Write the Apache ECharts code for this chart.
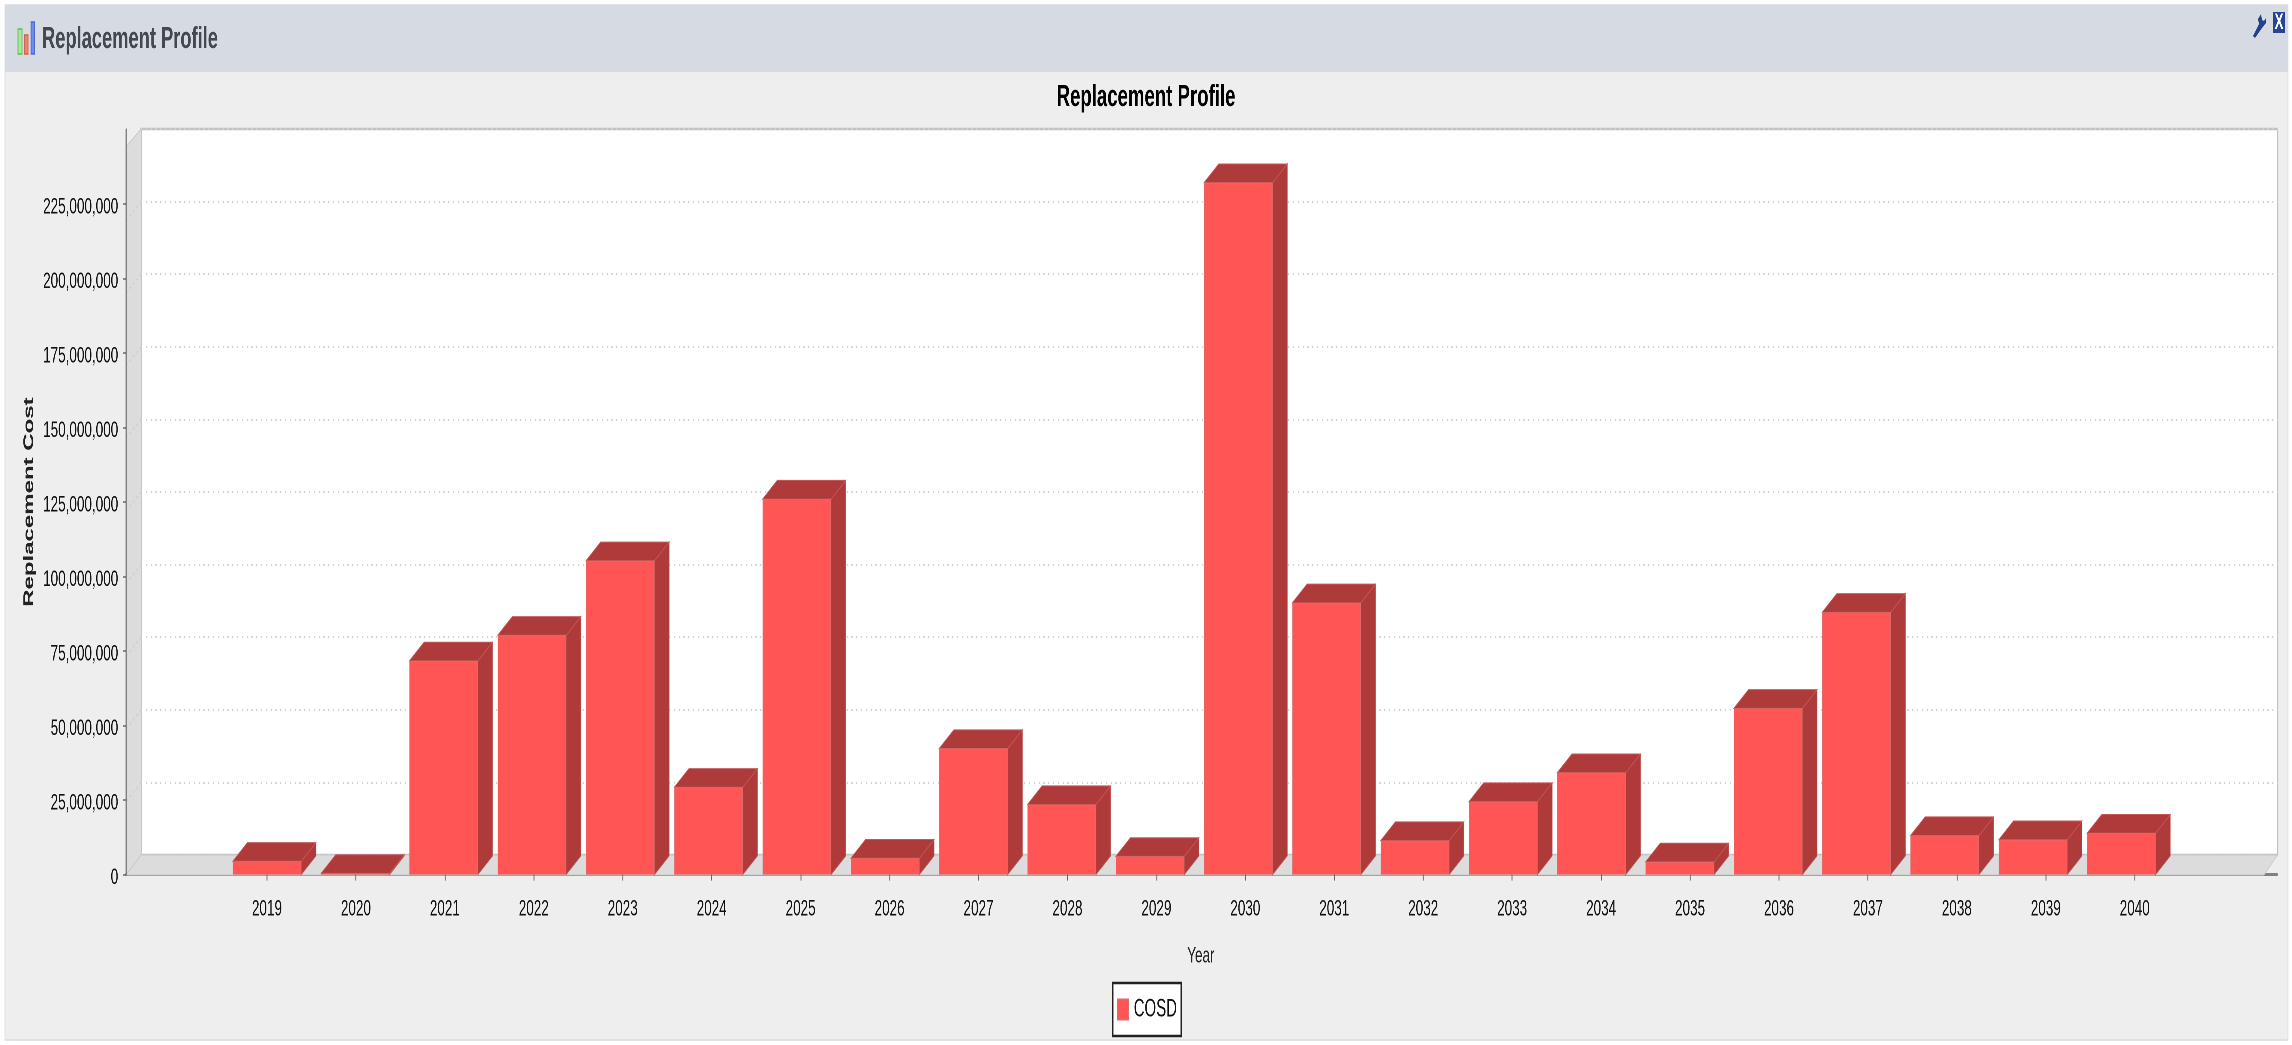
<!DOCTYPE html>
<html>
<head>
<meta charset="utf-8">
<title>Replacement Profile</title>
<style>
html,body{margin:0;padding:0;background:#fff;overflow:hidden;width:2292px;height:1045px}
#chart{position:absolute;left:0;top:0;width:3820px;height:1045px;transform-origin:0 0;transform:scaleX(0.6)}
</style>
<script src="https://cdn.jsdelivr.net/npm/echarts@6/dist/echarts.min.js"></script>
</head>
<body>
<div id="chart"></div>
<script>
const years = ['2019','2020','2021','2022','2023','2024','2025','2026','2027','2028','2029','2030','2031','2032','2033','2034','2035','2036','2037','2038','2039','2040'];
const cosd = [4460000,400000,71700000,80300000,105300000,29300000,126000000,5500000,42300000,23500000,6100000,232200000,91200000,11400000,24500000,34200000,4260000,55800000,88000000,13100000,11700000,13900000];
const yTicks = [0,25000000,50000000,75000000,100000000,125000000,150000000,175000000,200000000,225000000];
const seriesName = 'COSD';
const chartTitle = 'Replacement Profile';
const xTitle = 'Year';
const yTitle = 'Replacement Cost';

const XS = 0.6;                 // page is squeezed horizontally, text in the source is narrow
const px = x => x / XS;
const FONT = '"Liberation Sans", Arial, sans-serif';
const W = px(2292), H = 1045;
const FRONT = '#ff5555', DARK = '#af3a3a', EDGE = '#c25a5a';
const DX = px(14.7), DY = 18.7, BAR = px(68.5);

const chart = echarts.init(document.getElementById('chart'), null, {width: W, height: H, devicePixelRatio: 2});

function box(l, t, r, b) { return {left: px(l), top: t, width: px(r - l), height: b - t}; }
function poly(points, fill, extra) {
  return Object.assign({type: 'polygon', silent: true, shape: {points: points.map(p => [px(p[0]), p[1]])}, style: {fill: fill}}, extra || {});
}
function rect(l, t, r, b, style, z) {
  return {type: 'rect', silent: true, z: z, shape: {x: px(l), y: t, width: px(r - l), height: b - t}, style: style};
}

const chrome = [
  rect(5, 5, 2288, 1040, {fill: '#eeeeee', stroke: '#d8dbe4', lineWidth: 1.5}, -2),
  rect(5, 5, 2288, 72, {fill: '#d6dae3'}, -1),
  // header icon
  rect(18, 29, 22, 54, {fill: '#a6e89a', stroke: '#62b85a', lineWidth: 1.5}, 3),
  rect(24.5, 35, 28, 54, {fill: '#f0836e', stroke: '#d2604e', lineWidth: 1.5}, 3),
  rect(31, 22, 34.5, 54, {fill: '#6f8ee8', stroke: '#4a68cf', lineWidth: 1.5}, 3),
  // close box and wrench
  rect(2273, 12, 2285, 33, {fill: '#2a4492'}, 3),
  {type: 'text', silent: true, z: 4, style: {x: px(2279), y: 23, text: 'X', fill: '#fff', font: 'bold 22px ' + FONT, textAlign: 'center', textVerticalAlign: 'middle'}},
  poly([[2253,36],[2259,24],[2258,19],[2261,14],[2262,20],[2264,21],[2266,18],[2266,23],[2262,28],[2255,38]], '#24408e', {z: 3}),
  // 3D walls
  poly([[126,147],[141,129],[141,855],[126,875]], '#dcdcdc', {z: 1, style: {fill: '#dcdcdc', stroke: '#c4c4c4', lineWidth: 1}}),
  poly([[126,875],[141,855],[2277.5,855],[2264,875]], '#dcdcdc', {z: 1, style: {fill: '#dcdcdc', stroke: '#c8c8c8', lineWidth: 1}})
];

function faces(params, api) {
  const i = api.value(0), v = api.value(1);
  const top = api.coord([i, v]), base = api.coord([i, 0]);
  const l = top[0] - BAR / 2, r = top[0] + BAR / 2, t = top[1], b = base[1];
  const stroke = {fill: DARK, stroke: EDGE, lineWidth: 1};
  return {type: 'group', children: [
    {type: 'polygon', shape: {points: [[r,t],[r+DX,t-DY],[r+DX,b-DY],[r,b]]}, style: stroke},
    {type: 'polygon', shape: {points: [[l,t],[l+DX,t-DY],[r+DX,t-DY],[r,t]]}, style: stroke}
  ]};
}

// faint dotted continuation of each gridline across the left wall
function wallLine(params, api) {
  const y = api.coord([0, api.value(1)])[1];
  const x = params.coordSys.x;
  return {type: 'line', shape: {x1: x, y1: y, x2: x - DX, y2: y + DY},
    style: {stroke: '#cdcdcd', lineWidth: 1.5, lineDash: [3, 4]}};
}

const hiddenAxis = {show: false};

chart.setOption({
  animation: false,
  backgroundColor: 'transparent',
  textStyle: {fontFamily: FONT},
  title: [
    {text: chartTitle, left: 'center', top: 82, padding: 0, textStyle: {fontFamily: FONT, fontWeight: 'bold', fontSize: 31, color: '#000'}},
    {text: chartTitle, left: px(42), top: 24, padding: 0, textStyle: {fontFamily: FONT, fontWeight: 'bold', fontSize: 30.5, color: '#44484f'}}
  ],
  legend: {
    data: [seriesName], left: px(1112.7), top: 983, orient: 'horizontal',
    itemWidth: 18, itemHeight: 20, icon: 'rect',
    padding: [14, 7, 14, 7], backgroundColor: '#fff', borderColor: '#222', borderWidth: 2.5, borderRadius: 0,
    selectedMode: false,
    textStyle: {fontFamily: FONT, fontSize: 25, color: '#111', padding: [3, 0, 0, 4]}
  },
  grid: [
    Object.assign({backgroundColor: 'transparent'}, box(126, 129.6, 2277, 874.6)),
    Object.assign({show: true, backgroundColor: '#fff', borderColor: '#c2c2c2', borderWidth: 2.5, z: 0}, box(141, 129, 2277.5, 855)),
    box(222.5, 129.6, 2179.2, 874.6),
    box(222.85, 129.6, 2165.45, 874.6)
  ],
  xAxis: [
    {gridIndex: 0, type: 'category', data: years, axisLine: {show: true, lineStyle: {color: '#808080', width: 3}}, axisTick: {show: false}, axisLabel: {show: false}},
    Object.assign({gridIndex: 1, type: 'category', data: years}, hiddenAxis),
    {gridIndex: 2, type: 'category', data: years, z: 5,
      axisLine: {show: false},
      axisTick: {show: true, alignWithLabel: true, length: 6, lineStyle: {color: '#666', width: 1.5}},
      axisLabel: {margin: 23, interval: 0, fontFamily: FONT, fontSize: 22.5, color: '#111'},
      name: xTitle, nameLocation: 'middle', nameGap: 70, nameTextStyle: {fontFamily: FONT, fontSize: 22.5, color: '#222'}},
    Object.assign({gridIndex: 3, type: 'category', data: years}, hiddenAxis)
  ],
  yAxis: [
    {gridIndex: 0, type: 'value', min: 0, max: 250000000, interval: 25000000, z: 5,
      axisLine: {show: true, lineStyle: {color: '#808080', width: 2.5}},
      axisTick: {show: true, length: 5, customValues: yTicks, lineStyle: {color: '#666', width: 1.5}},
      axisLabel: {margin: 13, customValues: yTicks, verticalAlign: 'top', lineHeight: 6, fontFamily: FONT, fontSize: 22.5, color: '#111', formatter: v => Number(v).toLocaleString('en-US')},
      splitLine: {show: false},
      name: yTitle, nameLocation: 'middle', nameRotate: 90, nameGap: 147,
      nameTextStyle: {fontFamily: FONT, fontSize: 24, fontWeight: 'bold', color: '#222'}},
    {gridIndex: 1, type: 'value', min: 0, max: 250000000, interval: 25000000,
      axisLine: {show: false}, axisTick: {show: false}, axisLabel: {show: false},
      splitLine: {show: true, lineStyle: {color: '#d2d2d2', type: [2, 6], width: 2}}},
    Object.assign({gridIndex: 2, type: 'value', min: 0, max: 250000000}, hiddenAxis),
    Object.assign({gridIndex: 3, type: 'value', min: 0, max: 250000000}, hiddenAxis)
  ],
  graphic: chrome,
  series: [
    {name: 'wall', type: 'custom', xAxisIndex: 1, yAxisIndex: 1, z: 2, silent: true,
      encode: {x: 0, y: 1}, renderItem: wallLine, clip: false,
      data: yTicks.filter(v => v > 0).map(v => [0, v])},
    {name: 'depth', type: 'custom', xAxisIndex: 3, yAxisIndex: 3, z: 3, silent: true,
      encode: {x: 0, y: 1}, renderItem: faces,
      data: cosd.map((v, i) => [i, v])},
    {name: seriesName, type: 'bar', xAxisIndex: 3, yAxisIndex: 3, z: 4, barWidth: BAR, silent: true,
      itemStyle: {color: FRONT, borderColor: '#e26a6a', borderWidth: 1}, data: cosd}
  ]
});
</script>
</body>
</html>
